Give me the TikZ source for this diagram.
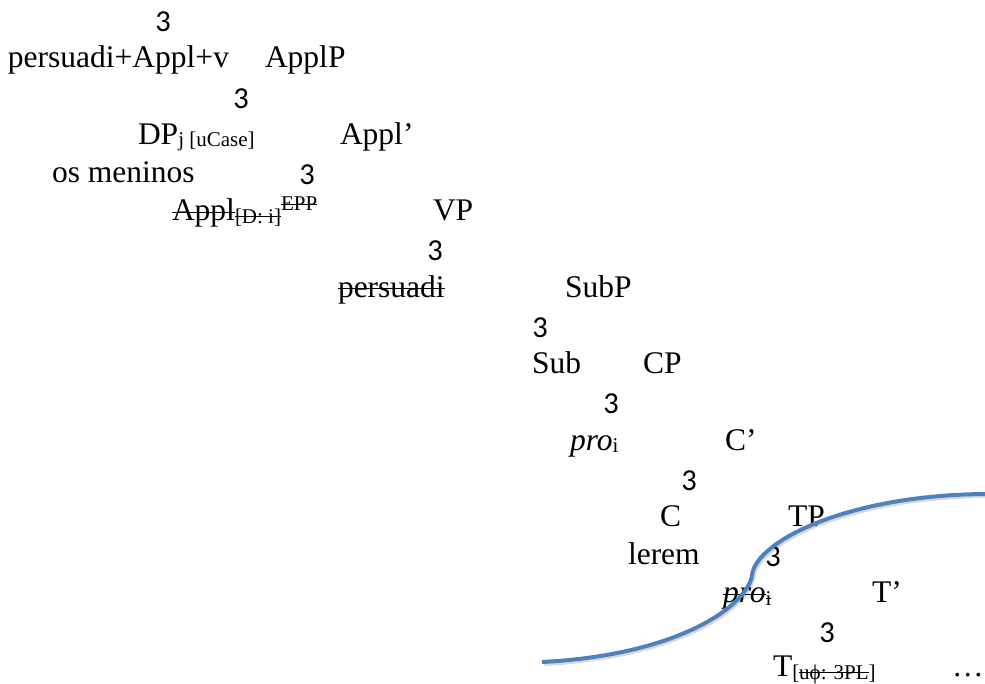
\documentclass[tikz,border=0pt]{standalone}
\usepackage{fontspec}
\setmainfont{Liberation Serif}
\newfontfamily\calibri{Carlito}
\definecolor{curveblue}{HTML}{4F81BD}
\newsavebox\strkbox
\newcommand\strk[2][0.25em]{\sbox\strkbox{#2}\rlap{\rule[#1]{\wd\strkbox}{0.045em}}\usebox\strkbox}
\newcommand\sbs[1]{\raisebox{-2.5pt}{\fontsize{21}{21}\selectfont #1}}
\newcommand\sps[1]{\raisebox{10pt}{\fontsize{21}{21}\selectfont #1}}
\tikzset{
  lbl/.style={inner sep=0pt, outer sep=0pt, anchor=base west, font=\fontsize{31.5}{38}\selectfont},
  three/.style={inner sep=0pt, outer sep=0pt, anchor=base, font=\calibri\fontsize{30.5}{36}\selectfont},
  bluecurve/.style={draw=curveblue, line width=4pt},
  curveshadow/.style={draw=black, opacity=0.15, line width=4pt},
}
\begin{document}
\begin{tikzpicture}[x=1pt,y=-1pt]
\useasboundingbox (0,0) rectangle (985,684);
% branching marks
\node[three] (b1) at (163,31.8) {3};
\node[three] (b3) at (241,108.2) {3};
\node[three] (b5) at (307,184.6) {3};
\node[three] (b7) at (435,261) {3};
\node[three] (b9) at (540,337.4) {3};
\node[three] (b11) at (611,413.8) {3};
\node[three] (b13) at (689,490.2) {3};
\node[three] (b15) at (773,566.6) {3};
\node[three] (b17) at (827,642) {3};
% labels
\node[lbl] (vhead) at (8,68) {persuadi+Appl+v};
\node[lbl] (applp) at (265,68) {ApplP};
\node[lbl] (dp) at (138,144.4) {DP\sbs{j [uCase]}};
\node[lbl] (applbar) at (340,144.4) {Appl’};
\node[lbl] (meninos) at (52,182.6) {os meninos};
\node[lbl] (applhead) at (172,220.8) {\strk{Appl}\sbs{\strk[0.3em]{[D: i]}}\sps{\strk[0.27em]{EPP}}};
\node[lbl] (vp) at (433,220.8) {VP};
\node[lbl] (vtrace) at (338,297.2) {\strk{persuadi}};
\node[lbl] (subp) at (565,297.2) {SubP};
\node[lbl] (sub) at (532,373.6) {Sub};
\node[lbl] (cp) at (643,373.6) {CP};
\node[lbl] (pro1) at (570,450) {\textit{pro}\sbs{i}};
\node[lbl] (cbar) at (725,450) {C’};
\node[lbl] (chead) at (660,526.4) {C};
\node[lbl] (tp) at (788,526.4) {TP};
\node[lbl] (lerem) at (628,564.6) {lerem};
\node[lbl] (pro2) at (723,602.8) {\strk{\textit{pro}}\sbs{\strk[0.3em]{i}}};
\node[lbl] (tbar) at (872,602.8) {T’};
\node[lbl] (thead) at (773,676.5) {T\sbs{[\strk[0.3em]{uϕ: 3PL}]}};
\node[lbl] (dots) at (952,676.5) {…};
% curve
\draw[curveshadow] (543.5,664) .. controls (681.5,657) and (749.5,607) .. (753.5,577) .. controls (758.2,542) and (851.5,497) .. (986.5,496);
\draw[bluecurve] (542,662) .. controls (680,655) and (748,605) .. (752,575) .. controls (756.7,540) and (850,495) .. (985,494);
\end{tikzpicture}
\end{document}
